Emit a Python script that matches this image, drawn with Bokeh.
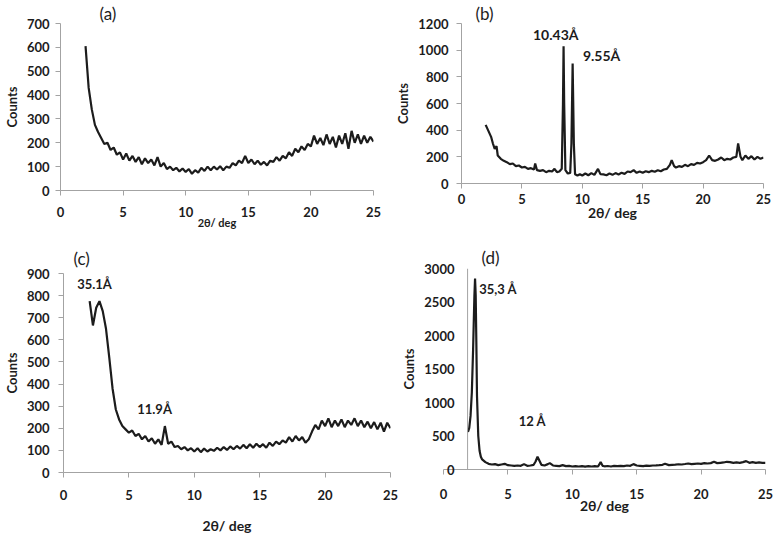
from bokeh.plotting import figure
from bokeh.layouts import column, row
from bokeh.models import Range1d, FixedTicker, Label, Span
from bokeh.embed import file_html
from bokeh.resources import INLINE

# ---------------- data ----------------
two_theta = [2.00, 2.25, 2.50, 2.75, 3.00, 3.25, 3.50, 3.75, 4.00, 4.25,
             4.50, 4.75, 5.00, 5.25, 5.50, 5.75, 6.00, 6.25, 6.50, 6.75,
             7.00, 7.25, 7.50, 7.75, 8.00, 8.25, 8.50, 8.75, 9.00, 9.25,
             9.50, 9.75, 10.00, 10.25, 10.50, 10.75, 11.00, 11.25, 11.50, 11.75,
             12.00, 12.25, 12.50, 12.75, 13.00, 13.25, 13.50, 13.75, 14.00, 14.25,
             14.50, 14.75, 15.00, 15.25, 15.50, 15.75, 16.00, 16.25, 16.50, 16.75,
             17.00, 17.25, 17.50, 17.75, 18.00, 18.25, 18.50, 18.75, 19.00, 19.25,
             19.50, 19.75, 20.00, 20.25, 20.50, 20.75, 21.00, 21.25, 21.50, 21.75,
             22.00, 22.25, 22.50, 22.75, 23.00, 23.25, 23.50, 23.75, 24.00, 24.25,
             24.50, 24.75, 25.00]

counts_a = [605, 430, 340, 275, 245, 220, 195, 200, 170, 180,
            150, 160, 130, 155, 125, 145, 120, 140, 110, 135,
            115, 130, 105, 140, 100, 115, 90, 100, 85, 95,
            80, 92, 78, 90, 70, 85, 75, 95, 82, 100,
            85, 100, 88, 102, 85, 100, 95, 115, 105, 125,
            115, 145, 115, 130, 110, 125, 108, 120, 105, 125,
            120, 140, 125, 145, 135, 160, 145, 175, 160, 185,
            170, 195, 185, 230, 195, 220, 190, 235, 195, 225,
            180, 230, 195, 240, 175, 250, 200, 235, 195, 230,
            200, 225, 205]

counts_c = [775, 665, 745, 775, 730, 650, 520, 380, 285, 240,
            210, 195, 180, 190, 165, 175, 150, 165, 140, 155,
            130, 150, 125, 210, 130, 140, 115, 120, 105, 115,
            100, 110, 95, 110, 92, 108, 95, 105, 98, 112,
            100, 115, 102, 118, 105, 120, 108, 125, 110, 128,
            112, 130, 115, 128, 112, 135, 120, 140, 128, 145,
            135, 160, 140, 165, 145, 160, 135, 150, 185, 215,
            195, 235, 210, 245, 205, 235, 210, 240, 205, 235,
            215, 245, 210, 235, 205, 230, 200, 228, 195, 225,
            185, 225, 200]

two_theta_b = [2.00, 2.15, 2.30, 2.45, 2.60, 2.75, 2.90, 3.00, 3.25, 3.50,
               3.75, 4.00, 4.25, 4.50, 4.75, 5.00, 5.25, 5.50, 5.75, 6.00,
               6.10, 6.25, 6.50, 6.75, 7.00, 7.25, 7.50, 7.70, 7.90, 8.10,
               8.30, 8.40, 8.45, 8.50, 8.60, 8.80, 9.00, 9.10, 9.20, 9.30,
               9.40, 9.60, 9.80, 10.00, 10.25, 10.50, 10.75, 11.00, 11.30, 11.50,
               11.75, 12.00, 12.25, 12.50, 12.75, 13.00, 13.25, 13.50, 13.75, 14.00,
               14.25, 14.50, 14.75, 15.00, 15.25, 15.50, 15.75, 16.00, 16.25, 16.50,
               16.75, 17.00, 17.25, 17.40, 17.60, 17.75, 18.00, 18.25, 18.50, 18.75,
               19.00, 19.25, 19.50, 19.75, 20.00, 20.25, 20.50, 20.75, 21.00, 21.25,
               21.50, 21.75, 22.00, 22.25, 22.50, 22.75, 22.90, 23.10, 23.25, 23.50,
               23.75, 24.00, 24.25, 24.50, 24.75, 25.00]
counts_b = [440, 410, 380, 350, 300, 260, 280, 210, 185, 170,
            160, 145, 150, 130, 135, 120, 125, 110, 115, 105,
            150, 100, 95, 100, 85, 95, 90, 110, 85, 90,
            110, 600, 1030, 600, 100, 75, 80, 300, 900, 300,
            70, 60, 70, 60, 75, 62, 78, 65, 110, 70,
            68, 62, 75, 65, 78, 68, 80, 72, 90, 85,
            100, 80, 90, 80, 92, 85, 95, 88, 100, 92,
            105, 110, 140, 175, 130, 120, 130, 125, 140, 130,
            145, 140, 155, 150, 160, 175, 210, 175, 170, 180,
            195, 175, 185, 180, 195, 200, 300, 200, 175, 210,
            185, 205, 180, 200, 185, 195]

two_theta_d = [1.90, 2.00, 2.10, 2.20, 2.30, 2.40, 2.45, 2.50, 2.55, 2.60,
               2.70, 2.80, 2.90, 3.00, 3.25, 3.50, 3.75, 4.00, 4.25, 4.50,
               4.75, 5.00, 5.25, 5.50, 5.75, 6.00, 6.25, 6.50, 6.75, 7.00,
               7.15, 7.30, 7.45, 7.60, 7.85, 8.10, 8.25, 8.50, 8.75, 9.00,
               9.25, 9.50, 9.75, 10.00, 10.25, 10.50, 10.75, 11.00, 11.25, 11.50,
               11.75, 12.00, 12.20, 12.35, 12.50, 12.75, 13.00, 13.25, 13.50, 13.75,
               14.00, 14.25, 14.50, 14.75, 15.00, 15.25, 15.50, 15.75, 16.00, 16.25,
               16.50, 16.75, 17.00, 17.20, 17.50, 17.75, 18.00, 18.25, 18.50, 18.75,
               19.00, 19.25, 19.50, 19.75, 20.00, 20.25, 20.50, 20.75, 21.00, 21.25,
               21.50, 21.75, 22.00, 22.25, 22.50, 22.75, 23.00, 23.25, 23.50, 23.75,
               24.00, 24.25, 24.50, 24.75, 25.00]
counts_d = [560, 620, 800, 1150, 1800, 2600, 2850, 2600, 1900, 1100,
            500, 280, 190, 150, 110, 85, 75, 80, 65, 75,
            85, 65, 60, 55, 60, 55, 80, 55, 60, 70,
            120, 190, 130, 70, 60, 80, 95, 60, 55, 50,
            65, 50, 55, 45, 50, 45, 50, 42, 50, 45,
            50, 45, 110, 55, 48, 52, 45, 55, 50, 55,
            50, 60, 55, 80, 60, 55, 50, 58, 55, 60,
            62, 65, 70, 85, 65, 70, 72, 78, 75, 82,
            90, 80, 85, 90, 85, 95, 90, 95, 115, 95,
            100, 105, 115, 110, 100, 105, 100, 110, 125, 100,
            110, 100, 105, 100, 100]

d_axis_position = 1.87   # where panel (d)'s vertical axis crosses the 2θ scale

x_ticks = [0, 5, 10, 15, 20, 25]
y_ticks_a = [0, 100, 200, 300, 400, 500, 600, 700]
y_ticks_b = [0, 200, 400, 600, 800, 1000, 1200]
y_ticks_c = [0, 100, 200, 300, 400, 500, 600, 700, 800, 900]
y_ticks_d = [0, 500, 1000, 1500, 2000, 2500, 3000]

assert len(two_theta) == len(counts_a) == len(counts_c)
assert len(two_theta_b) == len(counts_b)
assert len(two_theta_d) == len(counts_d)

FONT = "Lato"
INK = "#1c1c1c"
AXIS_GRAY = "#a3a3a3"


def panel(x, y, yr, yticks, width, height, left, right, top, bottom,
          x_std, y_std, xlabel_size, xlabel_std, tag, tag_offset, tag_standoff):
    p = figure(width=width, height=height, x_range=Range1d(0, 25), y_range=Range1d(*yr),
               output_backend="svg", toolbar_location=None,
               min_border_left=left, min_border_right=right,
               min_border_top=top, min_border_bottom=bottom)
    p.frame_align = False
    p.line(x, y, line_color=INK, line_width=2.2)
    p.xgrid.visible = False
    p.ygrid.visible = False
    p.outline_line_color = None
    for ax in (p.xaxis[0], p.yaxis[0]):
        ax.axis_line_color = AXIS_GRAY
        ax.axis_line_width = 1
        ax.major_tick_line_color = AXIS_GRAY
        ax.major_tick_in = 0
        ax.major_tick_out = 5
        ax.minor_tick_line_color = None
        ax.major_label_text_font = FONT
        ax.major_label_text_font_style = "bold"
        ax.major_label_text_font_size = "13px"
        ax.major_label_text_color = INK
        ax.axis_label_text_font = FONT
        ax.axis_label_text_font_style = "bold"
        ax.axis_label_text_color = INK
    p.xaxis.ticker = FixedTicker(ticks=x_ticks)
    p.yaxis.ticker = FixedTicker(ticks=yticks)
    p.xaxis.major_label_standoff = x_std
    p.yaxis.major_label_standoff = y_std
    p.yaxis.axis_label = "Counts"
    p.yaxis.axis_label_text_font_size = "13px"
    p.yaxis.axis_label_standoff = 4
    p.xaxis.axis_label = "2θ/ deg"
    p.xaxis.axis_label_text_font_size = xlabel_size
    p.xaxis.axis_label_standoff = xlabel_std
    p.title.text = tag
    p.title.align = "left"
    p.title.offset = tag_offset
    p.title.standoff = tag_standoff
    p.title.text_font = FONT
    p.title.text_font_size = "17px"
    p.title.text_font_style = "normal"
    p.title.text_color = INK
    return p


def note(p, x, y, text, size="13px"):
    p.add_layout(Label(x=x, y=y, text=text, text_align="center", text_baseline="middle",
                       text_font=FONT, text_font_size=size,
                       text_font_style="bold", text_color=INK))


pa = panel(two_theta, counts_a, (0, 700), y_ticks_a,
           392, 240, 58, 19, 19, 50, 11, 6, "11px", -4, "(a)", 39, 0)

pb = panel(two_theta_b, counts_b, (0, 1200), y_ticks_b,
           385, 240, 61, 14, 17, 57, 5, 8, "14px", -3, "(b)", 14, 0)
note(pb, 7.8, 1120, "10.43Å", "14px")
note(pb, 11.6, 960, "9.55Å", "14px")

pc = panel(two_theta, counts_c, (0, 900), y_ticks_c,
           398, 296, 61, 8, 33, 62, 12, 9, "14px", 14, "(c)", 10, 9)
note(pc, 2.37, 851, "35.1Å")
note(pc, 6.96, 287, "11.9Å")

pd = panel(two_theta_d, counts_d, (0, 3000), y_ticks_d,
           379, 296, 39, 12, 28, 67, 14, -11, "14px", -5, "(d)", 38, 1)
pd.yaxis.axis_line_color = None
pd.yaxis.major_tick_out = 0
pd.add_layout(Span(location=d_axis_position, dimension="height",
                   line_color=AXIS_GRAY, line_width=1))
note(pd, 4.24, 2701, "35,3 Å")
note(pd, 6.9, 731, "12 Å")

layout = column(row(pa, pb), row(pc, pd))
open("out.html", "w").write(file_html(layout, INLINE))
